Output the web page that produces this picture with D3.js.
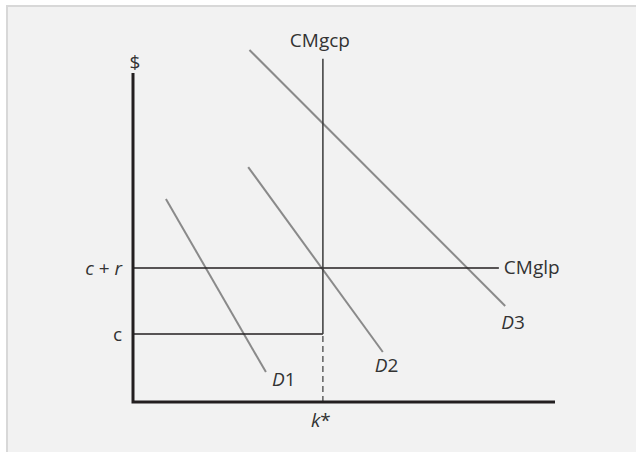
<!DOCTYPE html>
<html>
<head>
<meta charset="utf-8">
<script src="https://cdn.jsdelivr.net/npm/d3@7"></script>
<style>
  body { margin: 0; background: #fff; }
  text { font-family: "Open Sans", sans-serif; font-size: 19px; fill: #333; }
</style>
</head>
<body>
<div id="chart"></div>
<script>
// chart values (0-100 conceptual units on both axes)
const kStar = 45
const cLevel = 20.7
const cPlusR = 40.7
const cmgcpTop = 104.3
const cmglpEnd = 86.7

const demandNames = ["1", "2", "3"]
const demandStart = [[7.8, 61.7], [27.3, 71.4], [27.6, 107]]
const demandEnd = [[31.5, 9.1], [59.2, 15.2], [88.2, 29.2]]

const width = 636
const height = 452

const svg = d3.select("#chart")
    .append("svg")
    .attr("width", width)
    .attr("height", height)

// panel
svg.append("rect")
    .attr("x", 7)
    .attr("y", 6)
    .attr("width", 640)
    .attr("height", 460)
    .attr("fill", "#f2f2f2")
    .attr("stroke", "#d8d8d8")
    .attr("stroke-width", 2)

const x = d3.scaleLinear().domain([0, 100]).range([133, 555])
const y = d3.scaleLinear().domain([0, 100]).range([402, 73])

const line = d3.line().x(d => x(d[0])).y(d => y(d[1]))

// demand curves
svg.selectAll(".demand")
    .data(demandNames)
    .join("path")
    .attr("class", "demand")
    .attr("d", (d, i) => line([demandStart[i], demandEnd[i]]))
    .attr("stroke", "#8a8a8a")
    .attr("stroke-width", 2)
    .attr("fill", "none")

// CMglp (c + r)
svg.append("path")
    .attr("d", line([[0, cPlusR], [cmglpEnd, cPlusR]]))
    .attr("stroke", "#231f20")
    .attr("stroke-width", 1.5)

// c line
svg.append("path")
    .attr("d", line([[0, cLevel], [kStar, cLevel]]))
    .attr("stroke", "#231f20")
    .attr("stroke-width", 1.5)

// CMgcp vertical
svg.append("path")
    .attr("d", line([[kStar, cLevel], [kStar, cmgcpTop]]))
    .attr("stroke", "#3a3a3a")
    .attr("stroke-width", 1.5)

svg.append("path")
    .attr("d", line([[kStar, 0], [kStar, cLevel]]))
    .attr("stroke", "#3a3a3a")
    .attr("stroke-width", 1.2)
    .attr("stroke-dasharray", "6,4")

// axes
svg.append("path")
    .attr("d", line([[0, 100], [0, 0], [100, 0]]))
    .attr("stroke", "#231f20")
    .attr("stroke-width", 3)
    .attr("fill", "none")

// labels
svg.append("text")
    .attr("x", x(0) + 2)
    .attr("y", y(100) - 4)
    .attr("text-anchor", "middle")
    .text("$")

svg.append("text")
    .attr("x", x(kStar) - 3)
    .attr("y", y(cmgcpTop) - 12)
    .attr("text-anchor", "middle")
    .text("CMgcp")

svg.append("text")
    .attr("x", x(cmglpEnd) + 5)
    .attr("y", y(cPlusR) + 6)
    .text("CMglp")

const crLabel = svg.append("text")
    .attr("x", x(0) - 11)
    .attr("y", y(cPlusR) + 7)
    .attr("text-anchor", "end")
crLabel.append("tspan").attr("font-style", "italic").text("c")
crLabel.append("tspan").text(" + ")
crLabel.append("tspan").attr("font-style", "italic").text("r")

svg.append("text")
    .attr("x", x(0) - 11)
    .attr("y", y(cLevel) + 7)
    .attr("text-anchor", "end")
    .text("c")

const kLabel = svg.append("text")
    .attr("x", x(kStar) - 2)
    .attr("y", y(0) + 25)
    .attr("text-anchor", "middle")
kLabel.append("tspan").attr("font-style", "italic").text("k")
kLabel.append("tspan").text("*")

const dLabelOffset = [[6, 14], [-8, 20], [-4, 23]]
svg.selectAll(".dlabel")
    .data(demandNames)
    .join("text")
    .attr("class", "dlabel")
    .attr("x", (d, i) => x(demandEnd[i][0]) + dLabelOffset[i][0])
    .attr("y", (d, i) => y(demandEnd[i][1]) + dLabelOffset[i][1])
    .each(function(d) {
        d3.select(this).append("tspan").attr("font-style", "italic").text("D")
        d3.select(this).append("tspan").text(d)
    })
</script>
</body>
</html>
